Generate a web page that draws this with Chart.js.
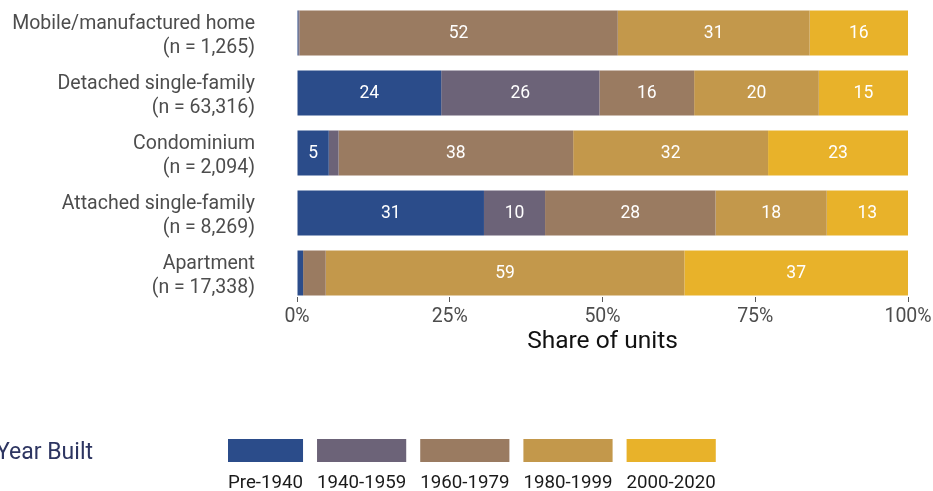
<!DOCTYPE html>
<html>
<head>
<meta charset="utf-8">
<script src="https://cdn.jsdelivr.net/npm/chart.js@4.4.0/dist/chart.umd.min.js"></script>
<style>
  html, body { margin: 0; padding: 0; background: #ffffff; }
  #c { display: block; }
</style>
</head>
<body>
<canvas id="c" width="933" height="491"></canvas>
<script>
// ---- Data ----
const categories = [
  ["Mobile/manufactured home", "(n = 1,265)"],
  ["Detached single-family", "(n = 63,316)"],
  ["Condominium", "(n = 2,094)"],
  ["Attached single-family", "(n = 8,269)"],
  ["Apartment", "(n = 17,338)"]
];
const seriesNames = ["Pre-1940", "1940-1959", "1960-1979", "1980-1999", "2000-2020"];
const pre1940   = [0.2, 23.6, 5.2, 30.6, 1.0];
const y1940s    = [0.2, 25.9, 1.6, 10.0, 0.0];
const y1960s    = [52.1, 15.5, 38.4, 27.9, 3.7];
const y1980s    = [31.4, 20.4, 31.9, 18.2, 58.7];
const y2000s    = [16.1, 14.6, 22.9, 13.3, 36.6];
const seriesValues = [pre1940, y1940s, y1960s, y1980s, y2000s];
const xTickValues = [0, 25, 50, 75, 100];
const xTitle = "Share of units";
const legendTitle = "Year Built";

const seriesColors = ["#2B4C8A", "#6C6378", "#9A7B61", "#C3984B", "#E8B22A"];

const datasets = seriesNames.map((name, s) => ({
  label: name,
  data: seriesValues[s].map((v, i) => ({ x: v, y: i })),
  backgroundColor: seriesColors[s],
  borderWidth: 0,
  barPercentage: 0.75,
  categoryPercentage: 1.0
}));

const valueLabels = {
  id: 'valueLabels',
  afterDatasetsDraw(chart) {
    const ctx = chart.ctx;
    ctx.save();
    ctx.font = '17.5px Roboto';
    ctx.fillStyle = '#ffffff';
    ctx.textAlign = 'center';
    ctx.textBaseline = 'middle';
    chart.data.datasets.forEach((ds, di) => {
      const meta = chart.getDatasetMeta(di);
      meta.data.forEach((el, i) => {
        const v = ds.data[i].x;
        if (v >= 4.5) {
          const p = el.getCenterPoint();
          ctx.fillText(String(Math.round(v)), p.x, p.y + 1);
        }
      });
    });
    ctx.restore();
  }
};

const bottomLegend = {
  id: 'bottomLegend',
  afterDraw(chart) {
    const ctx = chart.ctx;
    ctx.save();
    ctx.textBaseline = 'middle';
    ctx.textAlign = 'left';
    ctx.font = '23px Roboto';
    ctx.fillStyle = '#2D3561';
    ctx.fillText(legendTitle, -4, 453);
    ctx.font = '18.7px Roboto';
    let x = 228;
    chart.data.datasets.forEach((ds) => {
      const w = ctx.measureText(ds.label).width;
      ctx.fillStyle = ds.backgroundColor;
      ctx.fillRect(x, 439, w, 23);
      ctx.fillStyle = '#1a1a1a';
      ctx.fillText(ds.label, x, 483);
      x += w + 14;
    });
    ctx.restore();
  }
};

new Chart(document.getElementById('c'), {
  type: 'bar',
  data: { datasets },
  plugins: [valueLabels, bottomLegend],
  options: {
    indexAxis: 'y',
    responsive: false,
    animation: false,
    layout: { padding: { left: 0, right: 25, top: 0, bottom: 134 } },
    plugins: {
      legend: { display: false },
      tooltip: { enabled: false }
    },
    scales: {
      x: {
        type: 'linear',
        stacked: true,
        min: 0,
        max: 100,
        afterBuildTicks(scale) { scale.ticks = xTickValues.map(v => ({ value: v })); },
        afterFit(scale) { scale.height = 60; scale.paddingLeft = 0; scale.paddingRight = 0; },
        grid: { drawOnChartArea: false, drawTicks: true, tickLength: 5, color: '#5a5a5a', lineWidth: 1 },
        border: { display: false },
        ticks: {
          callback: (v) => v + '%',
          font: { family: 'Roboto', size: 19.5 },
          color: '#4d4d4d',
          padding: 3,
          maxRotation: 0,
          autoSkip: false
        },
        title: {
          display: true,
          text: xTitle,
          font: { family: 'Roboto', size: 24.5 },
          color: '#111111',
          padding: { top: 0, bottom: 0 }
        }
      },
      y: {
        type: 'linear',
        stacked: true,
        reverse: true,
        offset: false,
        bounds: 'data',
        grace: 0,
        min: -0.55,
        max: 4.4,
        afterBuildTicks(scale) { scale.ticks = categories.map((c, i) => ({ value: i })); },
        afterDataLimits(scale) { scale.min = -0.55; scale.max = 4.4; },
        afterFit(scale) { scale.width = 297; scale.paddingTop = 0; scale.paddingBottom = 0; },
        grid: { display: false, drawTicks: false, offset: false },
        border: { display: false },
        ticks: {
          callback: (v) => categories[v],
          font: { family: 'Roboto', size: 19.5, lineHeight: 1.2 },
          color: '#4d4d4d',
          padding: 42,
          labelOffset: 3,
          autoSkip: false
        }
      }
    }
  }
});
</script>
</body>
</html>
